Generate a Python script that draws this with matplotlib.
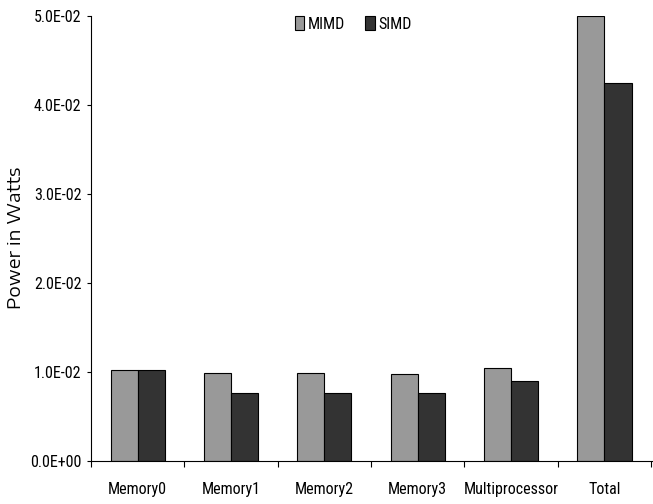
import matplotlib.pyplot as plt
import numpy as np
from matplotlib.ticker import FuncFormatter

categories = ['Memory0', 'Memory1', 'Memory2', 'Memory3', 'Multiprocessor', 'Total']
mimd = [0.0102, 0.0098, 0.0098, 0.0097, 0.0104, 0.0500]
simd = [0.0102, 0.0076, 0.0076, 0.0076, 0.0089, 0.0424]
yticks = [0.0, 0.01, 0.02, 0.03, 0.04, 0.05]

plt.rcParams['font.family'] = ['Roboto Condensed', 'Liberation Sans', 'DejaVu Sans']

fig = plt.figure(figsize=(6.53, 5.04), dpi=100)
ax = fig.add_axes([91 / 653, 1 - 460.7 / 504, (653 - 91) / 653, (460.7 - 15.7) / 504])

x = np.arange(len(categories))
w = 0.29
ax.bar(x - w / 2, mimd, w, color='#999999', edgecolor='black', linewidth=0.8, label='MIMD')
ax.bar(x + w / 2, simd, w, color='#333333', edgecolor='black', linewidth=0.8, label='SIMD')

ax.set_xlim(-0.5, len(categories) - 0.5 + 0.02)
ax.set_ylim(0, 0.05)
ax.set_yticks(yticks)
ax.yaxis.set_major_formatter(FuncFormatter(lambda v, p: '%.1E' % v))
ax.set_xticks(np.arange(len(categories) + 1) - 0.5)
ax.set_xticklabels([])
ax.set_xticks(x, minor=True)
ax.set_xticklabels(categories, minor=True)
ax.tick_params(axis='x', which='minor', length=0, pad=15.5, labelsize=11.5)
ax.tick_params(axis='x', which='major', length=4, direction='out', width=0.8)
ax.tick_params(axis='y', length=3, width=0.8, labelsize=11.5, pad=4)

for s in ['top', 'right']:
    ax.spines[s].set_visible(False)
ax.spines['left'].set_linewidth(0.8)
ax.spines['bottom'].set_linewidth(0.8)

fig.text(16 / 653, 1 - 238 / 504, 'Power in Watts', rotation=90, ha='center', va='center',
         fontsize=13, family=['Encode Sans Expanded', 'Liberation Sans', 'DejaVu Sans'])

ax.legend(loc='center', bbox_to_anchor=(353 / 653, 1 - 24 / 504), bbox_transform=fig.transFigure,
          ncol=2, frameon=False, fontsize=11.5, handlelength=0.6, handleheight=1.0,
          handletextpad=0.2, columnspacing=1.3)

fig.savefig('out.png', dpi=100)
